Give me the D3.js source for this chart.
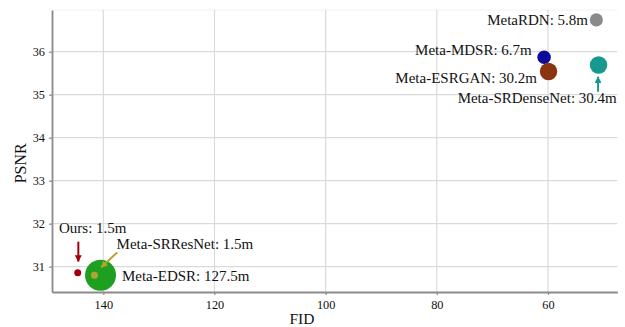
<!DOCTYPE html>
<html>
<head>
<meta charset="utf-8">
<script src="https://cdn.jsdelivr.net/npm/d3@7"></script>
<style>
  html, body { margin: 0; padding: 0; background: #fff; }
  svg { display: block; }
  svg text { font-family: "Liberation Serif", "Times New Roman", serif !important; }
</style>
</head>
<body>
<svg id="chart" width="625" height="327"></svg>
<script>
// Model comparison: FID (lower is better, axis reversed) vs PSNR, bubble size = parameter count
const models = ["Meta-EDSR", "Meta-SRResNet", "Ours", "Meta-MDSR", "Meta-ESRGAN", "MetaRDN", "Meta-SRDenseNet"];
const fid    = [140.5, 141.6, 144.6, 60.7, 59.9, 51.3, 50.9];
const psnr   = [30.80, 30.80, 30.86, 35.87, 35.54, 36.74, 35.69];
const params = [127.5, 1.5, 1.5, 6.7, 30.2, 5.8, 30.4];   // millions
const paramLabels = ["127.5m", "1.5m", "1.5m", "6.7m", "30.2m", "5.8m", "30.4m"];

const xTicks = [140, 120, 100, 80, 60];
const yTicks = [31, 32, 33, 34, 35, 36];

// styling per model (colour, label placement in px relative to the bubble, optional arrow)
const styles = {
  "Meta-EDSR":       { color: "#1f9f1f", anchor: "start", dx: 21.4, dy: 5.5 },
  "Meta-SRResNet":   { color: "#b3a52b", anchor: "start", dx: 22.2, dy: -26.5,
                       arrow: [22.8, -22.8, 6.8, -8.0] },
  "Ours":            { color: "#a3000f", anchor: "start", dx: -18.7, dy: -39.7,
                       arrow: [0.6, -31, 0.6, -11.2] },
  "Meta-MDSR":       { color: "#0b0b9c", anchor: "end", dx: -12.3, dy: -2.3 },
  "Meta-ESRGAN":     { color: "#8a3510", anchor: "end", dx: -11.5, dy: 11.5 },
  "MetaRDN":         { color: "#8a8a8a", anchor: "end", dx: -8.3, dy: 5.5 },
  "Meta-SRDenseNet": { color: "#18998f", anchor: "end", dx: 18.2, dy: 38,
                       arrow: [-0.5, 26.7, -0.5, 11.8] }
};

const svg = d3.select("#chart");
const plotL = 52, plotR = 617.3, plotT = 10, plotB = 292;

const x = d3.scaleLinear().domain([149.23, 47.53]).range([plotL, plotR]);
const y = d3.scaleLinear().domain([30.41, 36.97]).range([plotB, plotT]);
const r = d3.scaleLinear().domain([1.5, 6, 30, 127.5]).range([3.5, 6.7, 8.7, 15.5]);

// faint frame top
svg.append("line").attr("x1", plotL).attr("x2", plotR).attr("y1", plotT).attr("y2", plotT)
  .attr("stroke", "#f2f2f2").attr("stroke-width", 1);

// grid
svg.append("g").selectAll("line").data(yTicks).join("line")
  .attr("x1", plotL).attr("x2", plotR)
  .attr("y1", d => y(d)).attr("y2", d => y(d))
  .attr("stroke", "#dadada").attr("stroke-width", 1.2);
svg.append("g").selectAll("line").data(xTicks).join("line")
  .attr("x1", d => x(d)).attr("x2", d => x(d))
  .attr("y1", plotT).attr("y2", plotB)
  .attr("stroke", "#dadada").attr("stroke-width", 1.2);

// axes
const xAxis = svg.append("g").attr("transform", `translate(0,${plotB})`)
  .call(d3.axisBottom(x).tickValues(xTicks).tickFormat(d3.format("d"))
    .tickSize(3).tickSizeOuter(0).tickPadding(5));
const yAxis = svg.append("g").attr("transform", `translate(${plotL},0)`)
  .call(d3.axisLeft(y).tickValues(yTicks).tickFormat(d3.format("d"))
    .tickSize(3).tickSizeOuter(0).tickPadding(4));
[xAxis, yAxis].forEach(g => {
  g.attr("font-size", 12.3);
  g.select(".domain").attr("stroke", "#8a8a8a").attr("stroke-width", 1.8);
  g.selectAll(".tick line").attr("stroke", "#8a8a8a").attr("stroke-width", 1.2);
  g.selectAll(".tick text").attr("fill", "#111");
});

// axis titles
svg.append("text").attr("x", 302).attr("y", 324).attr("text-anchor", "middle")
  .attr("fill", "#111").style("font-size", "15.5px").text("FID");
svg.append("text").attr("transform", "translate(26,163.3) rotate(-90)")
  .attr("text-anchor", "middle").attr("fill", "#111")
  .style("font-size", "16px").text("PSNR");

// arrow markers
const defs = svg.append("defs");
models.forEach((m, i) => {
  if (!styles[m].arrow) return;
  defs.append("marker").attr("id", "ah" + i)
    .attr("viewBox", "0 0 10 10").attr("refX", 9).attr("refY", 5)
    .attr("markerWidth", 3.4).attr("markerHeight", 3.4).attr("markerUnits", "strokeWidth")
    .attr("orient", "auto")
    .append("path").attr("d", "M0,0 L10,5 L0,10 Z").attr("fill", styles[m].color);
});

// bubbles
const idx = d3.range(models.length);
svg.append("g").selectAll("circle").data(idx).join("circle")
  .attr("cx", i => x(fid[i])).attr("cy", i => y(psnr[i]))
  .attr("r", i => r(params[i]))
  .attr("fill", i => styles[models[i]].color);

// arrows
svg.append("g").selectAll("line").data(idx.filter(i => styles[models[i]].arrow)).join("line")
  .attr("x1", i => x(fid[i]) + styles[models[i]].arrow[0])
  .attr("y1", i => y(psnr[i]) + styles[models[i]].arrow[1])
  .attr("x2", i => x(fid[i]) + styles[models[i]].arrow[2])
  .attr("y2", i => y(psnr[i]) + styles[models[i]].arrow[3])
  .attr("stroke", i => styles[models[i]].color).attr("stroke-width", 2)
  .attr("marker-end", i => `url(#ah${i})`);

// labels
svg.append("g").selectAll("text").data(idx).join("text")
  .attr("x", i => x(fid[i]) + styles[models[i]].dx)
  .attr("y", i => y(psnr[i]) + styles[models[i]].dy)
  .attr("text-anchor", i => styles[models[i]].anchor)
  .attr("fill", "#111").style("font-size", "15px")
  .text(i => `${models[i]}: ${paramLabels[i]}`);
</script>
</body>
</html>
